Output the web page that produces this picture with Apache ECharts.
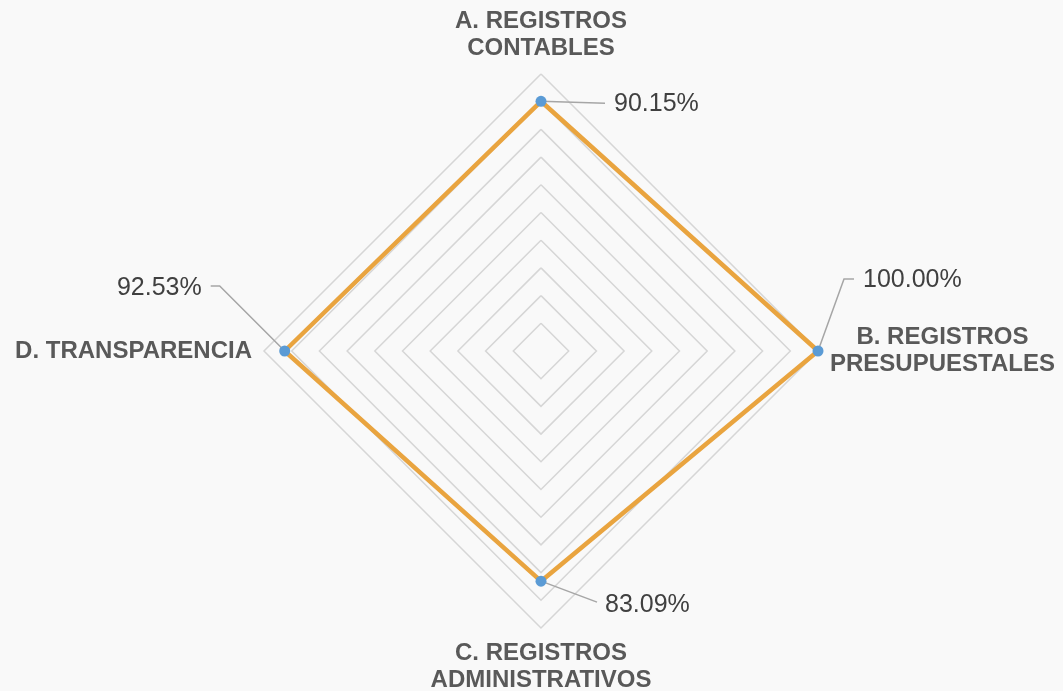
<!DOCTYPE html>
<html>
<head>
<meta charset="utf-8">
<style>
html,body{margin:0;padding:0;background:#f9f9f9;}
#chart{width:1063px;height:691px;}
</style>
<script src="https://cdn.jsdelivr.net/npm/echarts@6/dist/echarts.min.js"></script>
</head>
<body>
<div id="chart"></div>
<script>
// ---- data ----
const categories = ['A. REGISTROS\nCONTABLES', 'B. REGISTROS\nPRESUPUESTALES', 'C. REGISTROS\nADMINISTRATIVOS', 'D. TRANSPARENCIA'];
const values = [90.15, 100.00, 83.09, 92.53];
const scaleMax = 100;
const scaleStep = 10;

// ---- layout (pixel offsets for leader lines / labels, relative to each point) ----
const leaderLayout = [
  { pts: [[64, 2]], tx: 73, ty: 3, align: 'left' },
  { pts: [[26, -72], [36, -72]], tx: 45, ty: -71, align: 'left' },
  { pts: [[56, 21]], tx: 64, ty: 24, align: 'left' },
  { pts: [[-65, -65], [-74, -65]], tx: -83, ty: -63, align: 'right' }
];

const FONT = 'Liberation Sans, Arial, sans-serif';
const CENTER = [541, 351];
const RADIUS = 277;

// radar places indicators counter-clockwise; reorder so A top, B right, C bottom, D left
const radarOrder = [0, 3, 2, 1];

const chart = echarts.init(document.getElementById('chart'));
chart.setOption({
  backgroundColor: '#f9f9f9',
  animation: false,
  radar: {
    center: CENTER,
    radius: RADIUS,
    startAngle: 90,
    splitNumber: scaleMax / scaleStep,
    shape: 'polygon',
    nameGap: 12,
    indicator: radarOrder.map(i => ({ name: categories[i], min: 0, max: scaleMax })),
    axisName: {
      formatter: name => name.split('\n').map(s => '{c|' + s + '}').join('\n'),
      rich: {
        c: { align: 'center', fontSize: 24, fontWeight: 'bold', lineHeight: 27, color: '#595959', fontFamily: FONT }
      }
    },
    axisLine: { show: false },
    axisTick: { show: false },
    axisLabel: { show: false },
    splitArea: { show: false },
    splitLine: { lineStyle: { color: '#d6d6d6', width: 1.5 } }
  },
  polar: { center: CENTER, radius: RADIUS },
  angleAxis: {
    type: 'category', data: categories, startAngle: 90, clockwise: true, boundaryGap: false,
    axisLine: { show: false }, axisTick: { show: false }, axisLabel: { show: false }, splitLine: { show: false }
  },
  radiusAxis: {
    min: 0, max: scaleMax,
    axisLine: { show: false }, axisTick: { show: false }, axisLabel: { show: false }, splitLine: { show: false }
  },
  series: [
    {
      type: 'custom',
      coordinateSystem: 'polar',
      z: 1,
      data: values.map((v, i) => [v, i]),
      renderItem: function (params, api) {
        const i = params.dataIndex;
        const v = api.value(0);
        const p = api.coord([v, categories[i]]);
        const L = leaderLayout[i];
        const pts = [p].concat(L.pts.map(d => [p[0] + d[0], p[1] + d[1]]));
        return {
          type: 'group',
          children: [
            { type: 'polyline', shape: { points: pts }, style: { stroke: '#a6a6a6', lineWidth: 1.5, fill: null } },
            { type: 'text', x: p[0] + L.tx, y: p[1] + L.ty,
              style: { text: v.toFixed(2) + '%', fill: '#404040', fontSize: 25, fontFamily: FONT, align: L.align, verticalAlign: 'middle' } }
          ]
        };
      }
    },
    {
      type: 'radar',
      z: 2,
      symbol: 'circle',
      symbolSize: 11,
      lineStyle: { color: '#E9A43F', width: 4.5 },
      itemStyle: { color: '#5B9BD5' },
      data: [{ value: radarOrder.map(i => values[i]) }]
    }
  ]
});
</script>
</body>
</html>
